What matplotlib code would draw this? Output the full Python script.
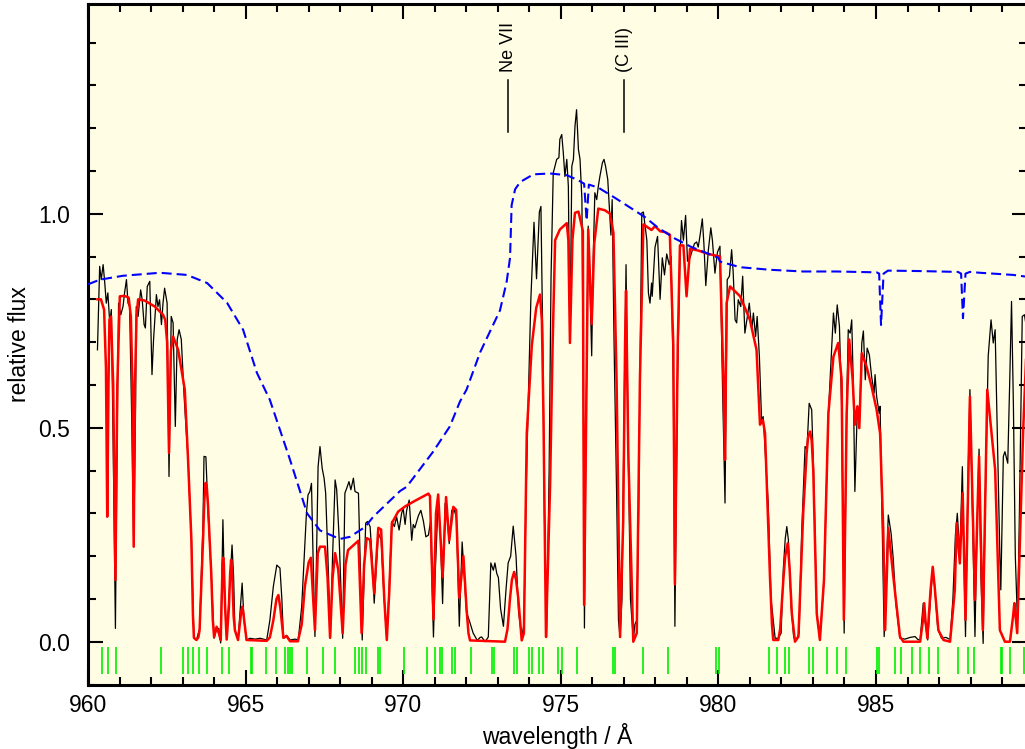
import matplotlib
matplotlib.use("Agg")
import matplotlib.pyplot as plt
from matplotlib.ticker import MultipleLocator, FormatStrFormatter

plt.rcParams['font.family'] = ['Liberation Sans', 'DejaVu Sans']

# observed spectrum (black)
obs_wl = [
    960.30, 960.37, 960.42, 960.48, 960.53, 960.58, 960.63, 960.69, 960.74, 960.80,
    960.87, 960.92, 960.97, 961.04, 961.11, 961.16, 961.22, 961.27, 961.32, 961.38,
    961.45, 961.51, 961.53, 961.59, 961.67, 961.72, 961.78, 961.82, 961.88, 961.96,
    962.03, 962.08, 962.17, 962.22, 962.27, 962.33, 962.38, 962.43, 962.51, 962.57,
    962.64, 962.70, 962.77, 962.83, 962.89, 962.96, 963.05, 963.11, 963.17, 963.28,
    963.36, 963.44, 963.54, 963.65, 963.68, 963.74, 963.76, 963.81, 963.91, 964.00,
    964.08, 964.15, 964.21, 964.23, 964.28, 964.33, 964.40, 964.47, 964.57, 964.62,
    964.66, 964.76, 964.89, 964.95, 965.03, 965.14, 965.30, 965.46, 965.67, 965.77,
    965.88, 965.99, 966.09, 966.15, 966.20, 966.30, 966.41, 966.57, 966.67, 966.78,
    966.86, 966.93, 966.98, 967.04, 967.09, 967.14, 967.20, 967.25, 967.30, 967.36,
    967.43, 967.49, 967.54, 967.61, 967.69, 967.76, 967.84, 967.89, 967.97, 968.08,
    968.15, 968.21, 968.28, 968.34, 968.42, 968.47, 968.58, 968.63, 968.70, 968.76,
    968.81, 968.87, 968.95, 969.01, 969.08, 969.15, 969.21, 969.30, 969.38, 969.48,
    969.55, 969.64, 969.72, 969.79, 969.87, 969.95, 970.00, 970.06, 970.11, 970.19,
    970.27, 970.32, 970.37, 970.48, 970.56, 970.64, 970.72, 970.80, 970.87, 970.91,
    970.96, 971.01, 971.11, 971.18, 971.25, 971.33, 971.39, 971.46, 971.54, 971.61,
    971.69, 971.78, 971.87, 971.94, 972.01, 972.12, 972.22, 972.35, 972.44, 972.49,
    972.60, 972.70, 972.78, 972.86, 972.91, 972.97, 973.02, 973.09, 973.18, 973.26,
    973.33, 973.41, 973.49, 973.58, 973.66, 973.76, 973.83, 973.90, 973.97, 974.05,
    974.15, 974.23, 974.32, 974.37, 974.43, 974.48, 974.55, 974.63, 974.69, 974.76,
    974.87, 974.94, 974.97, 975.03, 975.08, 975.13, 975.19, 975.24, 975.29, 975.35,
    975.40, 975.45, 975.50, 975.56, 975.61, 975.67, 975.71, 975.75, 975.80, 975.87,
    975.92, 975.98, 976.03, 976.08, 976.14, 976.19, 976.24, 976.32, 976.37, 976.42,
    976.49, 976.54, 976.59, 976.63, 976.69, 976.77, 976.83, 976.88, 976.94, 977.02,
    977.07, 977.14, 977.21, 977.30, 977.35, 977.41, 977.47, 977.51, 977.57, 977.62,
    977.73, 977.78, 977.83, 977.88, 977.90, 977.99, 978.07, 978.15, 978.22, 978.29,
    978.36, 978.44, 978.50, 978.57, 978.62, 978.70, 978.78, 978.83, 978.89, 978.96,
    979.02, 979.10, 979.17, 979.24, 979.31, 979.36, 979.42, 979.49, 979.54, 979.60,
    979.68, 979.76, 979.81, 979.89, 979.97, 980.05, 980.13, 980.21, 980.28, 980.35,
    980.42, 980.47, 980.53, 980.58, 980.63, 980.71, 980.77, 980.84, 980.92, 980.98,
    981.06, 981.11, 981.18, 981.23, 981.30, 981.37, 981.42, 981.48, 981.58, 981.67,
    981.80, 981.90, 981.99, 982.06, 982.12, 982.17, 982.22, 982.31, 982.39, 982.46,
    982.56, 982.64, 982.75, 982.81, 982.88, 982.96, 983.02, 983.12, 983.22, 983.35,
    983.49, 983.57, 983.65, 983.71, 983.77, 983.84, 983.91, 983.99, 984.07, 984.12,
    984.18, 984.23, 984.28, 984.33, 984.41, 984.47, 984.55, 984.60, 984.66, 984.72,
    984.79, 984.86, 984.94, 984.97, 985.02, 985.10, 985.13, 985.19, 985.26, 985.32,
    985.39, 985.48, 985.55, 985.63, 985.76, 985.92, 986.08, 986.24, 986.33, 986.40,
    986.50, 986.55, 986.64, 986.71, 986.79, 986.85, 986.96, 987.08, 987.22, 987.35,
    987.44, 987.52, 987.58, 987.66, 987.74, 987.79, 987.84, 987.90, 987.98, 988.06,
    988.14, 988.20, 988.27, 988.33, 988.40, 988.46, 988.53, 988.56, 988.65, 988.72,
    988.78, 988.86, 988.93, 988.96, 989.04, 989.09, 989.18, 989.24, 989.30, 989.36,
    989.42, 989.49, 989.55, 989.64, 989.71, 989.76,
]
obs_flux = [
    0.682, 0.877, 0.846, 0.881, 0.840, 0.791, 0.815, 0.745, 0.776, 0.450,
    0.031, 0.450, 0.791, 0.764, 0.783, 0.815, 0.846, 0.791, 0.783, 0.550,
    0.222, 0.550, 0.783, 0.760, 0.822, 0.799, 0.741, 0.733, 0.830, 0.842,
    0.624, 0.706, 0.811, 0.783, 0.799, 0.741, 0.791, 0.826, 0.791, 0.386,
    0.760, 0.745, 0.503, 0.706, 0.729, 0.706, 0.573, 0.500, 0.433, 0.238,
    0.009, 0.004, 0.030, 0.280, 0.433, 0.432, 0.394, 0.300, 0.160, 0.008,
    0.030, 0.031, -0.003, 0.080, 0.285, 0.120, 0.008, 0.100, 0.226, 0.150,
    0.027, 0.004, 0.137, 0.050, 0.004, 0.008, 0.006, 0.008, 0.004, 0.050,
    0.129, 0.179, 0.172, 0.100, 0.008, 0.015, 0.004, 0.006, 0.004, 0.082,
    0.199, 0.300, 0.343, 0.351, 0.370, 0.200, 0.012, 0.200, 0.409, 0.456,
    0.405, 0.382, 0.347, 0.200, 0.008, 0.200, 0.378, 0.355, 0.238, 0.008,
    0.347, 0.359, 0.374, 0.355, 0.382, 0.351, 0.347, 0.200, 0.004, 0.150,
    0.277, 0.281, 0.269, 0.200, 0.090, 0.180, 0.254, 0.238, 0.120, 0.004,
    0.120, 0.281, 0.269, 0.292, 0.261, 0.300, 0.311, 0.274, 0.307, 0.331,
    0.237, 0.274, 0.266, 0.294, 0.307, 0.282, 0.245, 0.249, 0.282, 0.150,
    0.011, 0.150, 0.331, 0.250, 0.089, 0.323, 0.300, 0.229, 0.307, 0.310,
    0.290, 0.036, 0.233, 0.150, 0.069, 0.044, 0.020, 0.003, 0.010, 0.011,
    0.000, 0.011, 0.184, 0.167, 0.184, 0.159, 0.150, 0.077, 0.036, 0.120,
    0.184, 0.200, 0.270, 0.200, 0.070, 0.011, 0.040, 0.350, 0.569, 0.800,
    0.980, 0.848, 1.004, 1.017, 0.692, 0.300, 0.011, 0.400, 0.850, 1.095,
    1.127, 1.131, 1.174, 1.185, 1.142, 1.087, 1.127, 1.064, 0.698, 1.111,
    1.127, 1.204, 1.243, 1.150, 1.127, 1.033, 0.600, 0.032, 0.500, 0.971,
    0.850, 0.668, 0.900, 1.049, 1.033, 1.064, 1.087, 1.119, 1.127, 1.111,
    1.080, 1.017, 0.950, 1.033, 0.698, 0.350, 0.050, 0.010, 0.100, 0.600,
    0.881, 0.446, 0.100, 0.005, 0.040, 0.050, 0.300, 0.610, 1.002, 1.004,
    0.938, 0.815, 0.791, 0.838, 0.807, 0.922, 0.947, 0.800, 0.897, 0.857,
    0.906, 0.881, 0.900, 0.600, 0.036, 0.600, 0.897, 0.984, 0.938, 0.996,
    0.889, 0.897, 0.914, 0.930, 0.934, 0.922, 0.950, 0.988, 0.930, 0.832,
    0.914, 0.967, 0.938, 0.861, 0.910, 0.924, 0.600, 0.324, 0.846, 0.854,
    0.916, 0.862, 0.752, 0.745, 0.799, 0.783, 0.854, 0.721, 0.760, 0.791,
    0.729, 0.768, 0.713, 0.760, 0.667, 0.518, 0.526, 0.450, 0.324, 0.100,
    0.008, 0.008, 0.020, 0.170, 0.240, 0.269, 0.238, 0.080, 0.010, 0.003,
    0.020, 0.250, 0.456, 0.450, 0.557, 0.542, 0.400, 0.066, 0.004, 0.144,
    0.534, 0.650, 0.768, 0.721, 0.787, 0.737, 0.550, 0.020, 0.550, 0.729,
    0.721, 0.752, 0.600, 0.351, 0.550, 0.500, 0.698, 0.726, 0.612, 0.686,
    0.670, 0.620, 0.581, 0.624, 0.573, 0.534, 0.550, 0.300, 0.012, 0.150,
    0.296, 0.253, 0.191, 0.090, 0.008, 0.006, 0.010, 0.012, 0.005, 0.004,
    0.090, 0.050, 0.004, 0.080, 0.160, 0.140, 0.030, 0.008, 0.010, 0.005,
    0.100, 0.250, 0.300, 0.199, 0.409, 0.200, 0.012, 0.300, 0.589, 0.300,
    0.012, 0.250, 0.450, 0.150, -0.004, 0.300, 0.550, 0.667, 0.752, 0.698,
    0.729, 0.450, 0.200, 0.121, 0.433, 0.444, 0.417, 0.600, 0.795, 0.550,
    0.200, 0.043, 0.300, 0.760, 0.764, 0.740,
]

# synthetic spectrum (red)
model_wl = [
    960.30, 960.41, 960.51, 960.57, 960.61, 960.65, 960.68, 960.73, 960.80, 960.87,
    960.93, 961.01, 961.16, 961.29, 961.36, 961.41, 961.45, 961.49, 961.54, 961.59,
    961.80, 962.12, 962.38, 962.45, 962.51, 962.57, 962.63, 962.70, 962.86, 963.07,
    963.17, 963.28, 963.33, 963.36, 963.44, 963.50, 963.54, 963.60, 963.65, 963.69,
    963.73, 963.77, 963.81, 963.86, 963.91, 963.96, 964.00, 964.08, 964.15, 964.21,
    964.25, 964.27, 964.29, 964.31, 964.35, 964.40, 964.47, 964.51, 964.54, 964.58,
    964.62, 964.66, 964.76, 964.86, 964.90, 964.94, 965.03, 965.67, 965.77, 965.88,
    965.98, 966.04, 966.10, 966.20, 966.30, 966.41, 966.66, 966.78, 966.88, 967.00,
    967.07, 967.20, 967.29, 967.36, 967.52, 967.60, 967.68, 967.76, 967.84, 967.94,
    968.08, 968.17, 968.25, 968.58, 968.68, 968.76, 968.84, 968.95, 969.08, 969.21,
    969.30, 969.40, 969.48, 969.56, 969.64, 969.84, 970.06, 970.32, 970.80, 970.85,
    970.96, 971.04, 971.11, 971.25, 971.36, 971.46, 971.59, 971.68, 971.78, 971.91,
    972.01, 972.07, 972.12, 973.23, 973.31, 973.39, 973.45, 973.52, 973.58, 973.65,
    973.76, 973.83, 973.92, 974.08, 974.22, 974.34, 974.40, 974.45, 974.53, 974.66,
    974.74, 974.82, 974.97, 975.19, 975.24, 975.29, 975.37, 975.45, 975.56, 975.70,
    975.74, 975.87, 975.98, 976.06, 976.19, 976.40, 976.56, 976.67, 976.77, 976.88,
    976.98, 977.04, 977.07, 977.14, 977.30, 977.41, 977.51, 977.62, 977.78, 977.88,
    977.99, 978.15, 978.31, 978.46, 978.57, 978.62, 978.71, 978.78, 978.89, 978.99,
    979.10, 979.36, 979.68, 980.05, 980.16, 980.21, 980.26, 980.37, 980.69, 981.00,
    981.21, 981.32, 981.41, 981.48, 981.64, 981.70, 981.74, 981.90, 981.96, 982.06,
    982.12, 982.20, 982.26, 982.33, 982.43, 982.54, 982.69, 982.80, 982.85, 982.91,
    982.96, 983.01, 983.12, 983.22, 983.35, 983.49, 983.65, 983.80, 983.91, 983.98,
    984.07, 984.15, 984.26, 984.33, 984.41, 984.47, 984.55, 984.70, 984.86, 985.02,
    985.13, 985.23, 985.29, 985.39, 985.55, 985.76, 985.87, 986.40, 986.49, 986.53,
    986.57, 986.63, 986.73, 986.80, 986.86, 986.98, 987.14, 987.35, 987.50, 987.56,
    987.66, 987.75, 987.84, 987.98, 988.14, 988.27, 988.39, 988.53, 988.78, 988.93,
    989.09, 989.25, 989.35, 989.39, 989.43, 989.48, 989.67, 989.76,
]
model_flux = [
    0.800, 0.800, 0.776, 0.640, 0.292, 0.600, 0.752, 0.760, 0.600, 0.144,
    0.600, 0.807, 0.808, 0.804, 0.760, 0.600, 0.222, 0.600, 0.760, 0.800,
    0.797, 0.783, 0.764, 0.752, 0.700, 0.441, 0.680, 0.713, 0.682, 0.589,
    0.433, 0.238, 0.060, 0.009, 0.004, 0.010, 0.027, 0.140, 0.238, 0.330,
    0.371, 0.360, 0.316, 0.240, 0.160, 0.050, 0.011, 0.035, 0.020, 0.004,
    0.130, 0.185, 0.196, 0.180, 0.080, 0.005, 0.080, 0.160, 0.191, 0.150,
    0.060, 0.027, 0.004, 0.070, 0.082, 0.060, 0.004, 0.002, 0.010, 0.050,
    0.100, 0.109, 0.080, 0.009, 0.013, 0.001, 0.001, 0.040, 0.129, 0.185,
    0.196, 0.027, 0.207, 0.222, 0.222, 0.150, 0.009, 0.150, 0.207, 0.168,
    0.020, 0.180, 0.214, 0.236, 0.020, 0.180, 0.242, 0.238, 0.113, 0.266,
    0.262, 0.100, 0.004, 0.120, 0.277, 0.304, 0.316, 0.327, 0.346, 0.340,
    0.052, 0.300, 0.344, 0.151, 0.338, 0.237, 0.315, 0.308, 0.102, 0.200,
    0.077, 0.020, 0.003, 0.000, 0.030, 0.102, 0.145, 0.163, 0.145, 0.102,
    0.003, 0.020, 0.487, 0.692, 0.780, 0.811, 0.750, 0.528, 0.011, 0.364,
    0.692, 0.938, 0.963, 0.978, 0.938, 0.698, 0.940, 1.002, 1.005, 0.960,
    0.086, 0.963, 0.742, 0.930, 1.012, 1.008, 1.000, 0.955, 0.610, 0.011,
    0.282, 0.700, 0.820, 0.446, 0.000, 0.020, 0.610, 0.975, 0.967, 0.962,
    0.971, 0.959, 0.957, 0.951, 0.692, 0.134, 0.692, 0.926, 0.926, 0.807,
    0.918, 0.914, 0.906, 0.900, 0.612, 0.425, 0.791, 0.830, 0.807, 0.752,
    0.682, 0.507, 0.518, 0.487, 0.144, 0.040, 0.004, 0.004, 0.030, 0.144,
    0.200, 0.230, 0.170, 0.066, 0.000, 0.012, 0.300, 0.441, 0.480, 0.491,
    0.470, 0.400, 0.066, 0.004, 0.144, 0.534, 0.666, 0.698, 0.612, 0.051,
    0.534, 0.706, 0.612, 0.507, 0.550, 0.499, 0.674, 0.643, 0.596, 0.542,
    0.487, 0.261, 0.027, 0.265, 0.152, 0.012, 0.000, 0.000, 0.050, 0.090,
    0.050, 0.008, 0.120, 0.175, 0.130, 0.027, 0.004, 0.000, 0.120, 0.277,
    0.183, 0.347, 0.051, 0.573, 0.098, 0.433, 0.027, 0.589, 0.402, 0.027,
    0.000, 0.000, 0.060, 0.090, 0.060, 0.020, 0.495, 0.660,
]

# model without interstellar absorption (blue dashed)
photo_wl = [
    960.00, 960.38, 961.11, 962.28, 963.14, 963.78, 964.41, 964.92, 965.36, 965.77,
    966.41, 966.95, 967.36, 967.99, 968.31, 968.79, 969.05, 969.90, 970.11, 970.95,
    971.48, 971.80, 972.01, 972.44, 973.07, 973.28, 973.39, 973.44, 973.55, 973.71,
    974.13, 974.66, 975.19, 975.56, 975.74, 975.82, 975.89, 976.19, 976.72, 977.25,
    977.67, 978.09, 978.62, 979.15, 980.00, 980.05, 980.69, 981.64, 982.69, 983.75,
    985.02, 985.10, 985.16, 985.24, 985.38, 986.40, 987.60, 987.70, 987.76, 987.84,
    987.98, 988.30, 989.35, 989.76,
]
photo_flux = [
    0.835, 0.846, 0.855, 0.862, 0.857, 0.838, 0.792, 0.729, 0.628, 0.565,
    0.425, 0.300, 0.260, 0.240, 0.245, 0.268, 0.292, 0.352, 0.362, 0.444,
    0.503, 0.561, 0.589, 0.676, 0.774, 0.840, 0.897, 1.020, 1.057, 1.074,
    1.092, 1.094, 1.090, 1.078, 1.070, 0.984, 1.068, 1.061, 1.037, 1.012,
    0.992, 0.967, 0.942, 0.922, 0.897, 0.888, 0.875, 0.869, 0.865, 0.865,
    0.863, 0.860, 0.740, 0.860, 0.867, 0.866, 0.864, 0.860, 0.756, 0.860,
    0.864, 0.862, 0.857, 0.853,
]

# interstellar H2 line positions (green)
ism_wl = [
    960.43, 960.63, 960.88, 962.33, 963.00, 963.16, 963.34, 963.52, 963.79, 964.26,
    964.48, 965.16, 965.21, 965.65, 965.97, 966.25, 966.33, 966.40, 966.47, 966.96,
    967.45, 967.84, 968.47, 968.60, 968.70, 968.82, 969.21, 969.26, 970.03, 970.74,
    971.01, 971.17, 971.22, 971.56, 971.64, 972.15, 972.81, 972.88, 973.52, 973.60,
    974.00, 974.10, 974.32, 974.45, 974.92, 975.03, 975.51, 976.65, 976.72, 977.62,
    978.39, 979.92, 980.03, 981.61, 981.87, 982.11, 982.24, 982.88, 982.99, 983.44,
    983.76, 984.05, 985.02, 985.08, 985.60, 985.78, 986.13, 986.40, 986.68, 986.96,
    987.61, 987.93, 988.12, 988.96, 989.01, 989.25, 989.70,
]

ids = ["Ne VII", "(C III)"]
ids_wl = [973.33, 977.02]

fig = plt.figure(figsize=(10.25, 7.49), dpi=100)
ax = fig.add_axes([88 / 1025, 1 - 684.5 / 749, 938.5 / 1025, 680.5 / 749])
ax.set_facecolor('#FFFDE4')

ax.vlines(ism_wl, -0.075, -0.012, color='#00EE00', lw=1.2, zorder=2)
ax.plot(obs_wl, obs_flux, color='black', lw=0.9, zorder=3)
ax.plot(model_wl, model_flux, color='#FF0000', lw=1.8, zorder=4)
ax.plot(photo_wl, photo_flux, color='#0000FF', lw=1.5, dashes=(4.8, 2.4), zorder=5)

for name, w in zip(ids, ids_wl):
    ax.plot([w, w], [1.19, 1.313], color='black', lw=1.1)
    ax.text(w, 1.33, name, rotation=90, ha='center', va='bottom', fontsize=13)

ax.set_xlim(960, 989.775)
ax.set_ylim(-0.1, 1.49)
ax.xaxis.set_major_locator(MultipleLocator(5))
ax.xaxis.set_minor_locator(MultipleLocator(1))
ax.yaxis.set_major_locator(MultipleLocator(0.5))
ax.yaxis.set_minor_locator(MultipleLocator(0.1))
ax.yaxis.set_major_formatter(FormatStrFormatter('%.1f'))
ax.tick_params(which='both', direction='in', top=True, right=True, width=1.5, labelsize=16.5)
ax.tick_params(which='major', length=10.8)
ax.tick_params(which='minor', length=5.8)
ax.tick_params(axis='x', pad=7)
ax.tick_params(axis='y', pad=13)
for s in ax.spines.values():
    s.set_linewidth(2.2)

ax.set_xlabel('wavelength / Å', fontsize=16.5, labelpad=4)
ax.set_ylabel('relative flux', fontsize=16.5, labelpad=5)

fig.savefig('out.png', dpi=100)
